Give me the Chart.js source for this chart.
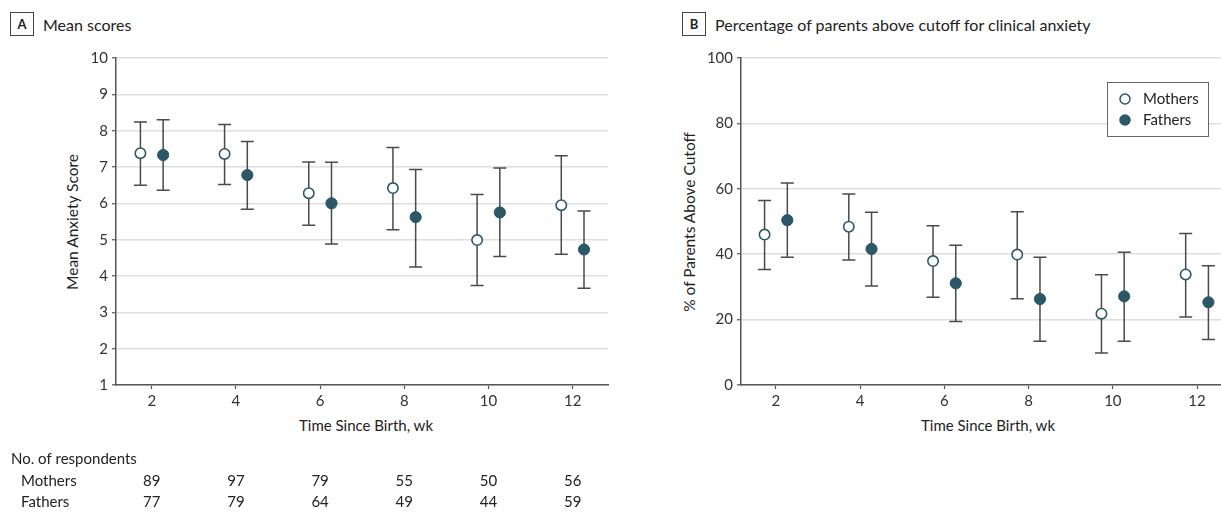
<!DOCTYPE html>
<html>
<head>
<meta charset="utf-8">
<script src="https://cdn.jsdelivr.net/npm/chart.js@4"></script>
<style>
  body { margin:0; width:1221px; height:527px; overflow:hidden; background:#fff; font-family:Lato, "Open Sans", sans-serif; color:#222; position:relative; }
  .cv { position:absolute; top:0; }
  .panel { position:absolute; top:12px; height:24px; display:flex; align-items:center; font-size:16px; }
  .panel b { display:inline-block; width:22px; height:22px; border:1px solid #444; text-align:center; line-height:22px; font-size:13px; margin-right:9px; }
  .ytitle { position:absolute; font-size:15.5px; transform:translate(-50%,-50%) rotate(-90deg); white-space:nowrap; }
  .xtitle { position:absolute; font-size:15px; transform:translateX(-50%); white-space:nowrap; }
</style>
</head>
<body>
<div class="panel" style="left:10px"><b>A</b>Mean scores</div>
<div class="panel" style="left:682px"><b>B</b>Percentage of parents above cutoff for clinical anxiety</div>
<div class="ytitle" style="left:72px; top:222px">Mean Anxiety Score</div>
<div class="ytitle" style="left:689px; top:222px">% of Parents Above Cutoff</div>
<div class="xtitle" style="left:366px; top:416px">Time Since Birth, wk</div>
<div class="xtitle" style="left:988px; top:416px">Time Since Birth, wk</div>
<canvas id="chartA" class="cv" style="left:0px" width="620" height="527"></canvas>
<canvas id="chartB" class="cv" style="left:620px" width="620" height="527"></canvas>
<script>
// weeks since birth
const weeks = [2, 4, 6, 8, 10, 12];

// panel A - mean scores with 95% CI
const momMean = [7.38, 7.36, 6.28, 6.42, 4.99, 5.95];
const momLo   = [6.50, 6.52, 5.40, 5.27, 3.74, 4.60];
const momHi   = [8.24, 8.17, 7.14, 7.54, 6.24, 7.31];
const dadMean = [7.33, 6.78, 6.00, 5.62, 5.75, 4.73];
const dadLo   = [6.36, 5.84, 4.88, 4.25, 4.54, 3.66];
const dadHi   = [8.30, 7.70, 7.13, 6.93, 6.97, 5.79];

// panel B - % above cutoff with 95% CI
const momPct   = [46.0, 48.4, 37.9, 39.9, 21.8, 33.8];
const momPctLo = [35.3, 38.2, 26.8, 26.4, 9.8, 20.8];
const momPctHi = [56.4, 58.4, 48.7, 53.0, 33.7, 46.3];
const dadPct   = [50.4, 41.6, 31.1, 26.3, 27.1, 25.3];
const dadPctLo = [39.1, 30.3, 19.4, 13.4, 13.4, 13.9];
const dadPctHi = [61.8, 52.8, 42.7, 39.1, 40.6, 36.5];

// no. of respondents
const momN = [89, 97, 79, 55, 50, 56];
const dadN = [77, 79, 64, 49, 44, 59];

const dodge = 0.27; // mothers left, fathers right
const teal = "#2c5767";
const axisCol = "#555";

Chart.defaults.font.family = "Lato";
Chart.defaults.font.size = 15;
Chart.defaults.color = "#333";

function pts(vals, off) {
  return vals.map((v, i) => ({ x: weeks[i] + off, y: v }));
}

// error bars drawn under the points, from lo/hi arrays stored on each dataset
const errorBars = {
  id: "errorBars",
  beforeDatasetsDraw(chart) {
    const ctx = chart.ctx, xs = chart.scales.x, ys = chart.scales.y;
    ctx.save();
    ctx.strokeStyle = "#4a4a4a";
    ctx.lineWidth = 1.5;
    chart.data.datasets.forEach(ds => {
      ds.data.forEach((p, i) => {
        let x = xs.getPixelForValue(p.x);
        let y1 = ys.getPixelForValue(ds.lo[i]);
        let y2 = ys.getPixelForValue(ds.hi[i]);
        ctx.beginPath();
        ctx.moveTo(x, y1); ctx.lineTo(x, y2);
        ctx.moveTo(x - 6.5, y1); ctx.lineTo(x + 6.5, y1);
        ctx.moveTo(x - 6.5, y2); ctx.lineTo(x + 6.5, y2);
        ctx.stroke();
      });
    });
    ctx.restore();
  }
};

// respondents table under panel A, aligned on the week ticks
const respTable = {
  id: "respTable",
  afterDraw(chart) {
    if (!chart.options.plugins.respTable) return;
    const ctx = chart.ctx, xs = chart.scales.x;
    ctx.save();
    ctx.font = "15px Lato";
    ctx.fillStyle = "#222";
    ctx.textBaseline = "middle";
    ctx.textAlign = "left";
    ctx.fillText("No. of respondents", 11, 459);
    ctx.fillText("Mothers", 21, 481);
    ctx.fillText("Fathers", 21, 502);
    ctx.textAlign = "center";
    for (let i = 0; i < weeks.length; i++) {
      let x = xs.getPixelForValue(weeks[i]);
      ctx.fillText(momN[i], x, 481);
      ctx.fillText(dadN[i], x, 502);
    }
    ctx.restore();
  }
};

// legend box inside panel B
const boxLegend = {
  id: "boxLegend",
  afterDraw(chart) {
    if (!chart.options.plugins.boxLegend) return;
    const ctx = chart.ctx;
    const bx = 487, by = 82, bw = 101, bh = 54;
    ctx.save();
    ctx.fillStyle = "#fff";
    ctx.fillRect(bx, by, bw, bh);
    ctx.strokeStyle = "#666";
    ctx.lineWidth = 1;
    ctx.strokeRect(bx + 0.5, by + 0.5, bw, bh);
    ctx.font = "15px Lato";
    ctx.textBaseline = "middle";
    chart.data.datasets.forEach((ds, i) => {
      let y = by + 17 + i * 21;
      ctx.beginPath();
      ctx.arc(bx + 18, y, 5, 0, Math.PI * 2);
      ctx.fillStyle = ds.backgroundColor;
      ctx.fill();
      ctx.lineWidth = 1.5;
      ctx.strokeStyle = ds.borderColor;
      ctx.stroke();
      ctx.fillStyle = "#222";
      ctx.fillText(ds.label, bx + 36, y);
    });
    ctx.restore();
  }
};

function makeChart(id, cfg) {
  return new Chart(document.getElementById(id), {
    type: "scatter",
    data: {
      datasets: [
        { label: "Mothers", data: pts(cfg.mom, -dodge), lo: cfg.momLo, hi: cfg.momHi,
          backgroundColor: "#fff", borderColor: teal, borderWidth: 1.6, pointRadius: 5.2 },
        { label: "Fathers", data: pts(cfg.dad, dodge), lo: cfg.dadLo, hi: cfg.dadHi,
          backgroundColor: teal, borderColor: teal, borderWidth: 1, pointRadius: 5.6 }
      ]
    },
    options: {
      responsive: false,
      animation: false,
      layout: { padding: { top: 58, right: cfg.padRight, left: 0, bottom: 0 } },
      plugins: {
        legend: { display: false },
        tooltip: { enabled: false },
        respTable: cfg.table,
        boxLegend: cfg.legend
      },
      scales: {
        x: {
          type: "linear", min: cfg.xmin, max: cfg.xmax,
          afterBuildTicks: s => { s.ticks = weeks.map(v => ({ value: v })); },
          afterFit: s => { s.height = 142; },
          grid: { drawOnChartArea: false, tickLength: 4, tickColor: axisCol, tickWidth: 1.2 },
          border: { color: axisCol, width: 1.5 },
          ticks: { padding: 3, color: "#333" }
        },
        y: {
          min: cfg.ymin, max: cfg.ymax,
          ticks: { stepSize: cfg.step, padding: 4, color: "#333" },
          afterFit: s => { s.width = cfg.yw; },
          grid: { color: "#dedede", lineWidth: 1.5, tickLength: 4, tickColor: axisCol, tickWidth: 1.2 },
          border: { color: axisCol, width: 1.5 }
        }
      }
    },
    plugins: [errorBars, respTable, boxLegend]
  });
}

makeChart("chartA", {
  mom: momMean, momLo: momLo, momHi: momHi,
  dad: dadMean, dadLo: dadLo, dadHi: dadHi,
  xmin: 1.15, xmax: 12.84, ymin: 1, ymax: 10, step: 1,
  yw: 116, padRight: 12, table: true, legend: false
});

makeChart("chartB", {
  mom: momPct, momLo: momPctLo, momHi: momPctHi,
  dad: dadPct, dadLo: dadPctLo, dadHi: dadPctHi,
  xmin: 1.17, xmax: 12.83, ymin: 0, ymax: 100, step: 20,
  yw: 121, padRight: 8, table: false, legend: true
});
</script>
</body>
</html>
